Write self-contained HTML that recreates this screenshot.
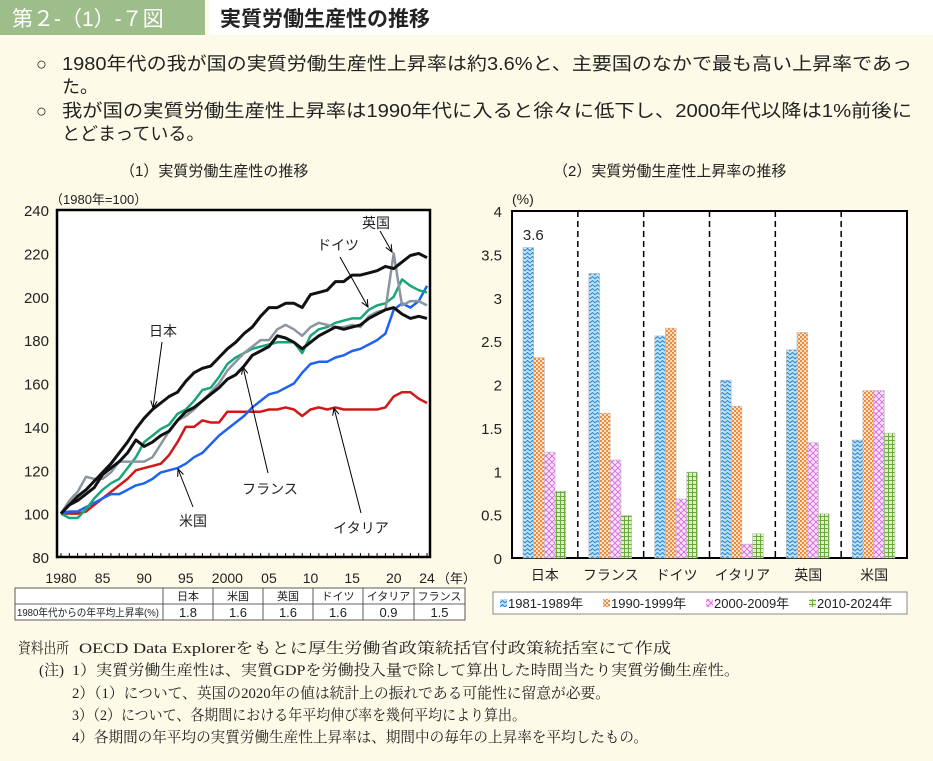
<!DOCTYPE html>
<html><head><meta charset="utf-8">
<style>
html,body{margin:0;padding:0;background:#fdfbe7;}
body{width:933px;height:761px;position:relative;overflow:hidden;font-family:"Liberation Sans","Noto Sans CJK JP",sans-serif;}
svg{position:absolute;left:0;top:0;}
</style></head>
<body>
<svg id="root" width="933" height="761" viewBox="0 0 933 761" xmlns="http://www.w3.org/2000/svg">
<defs>
 <pattern id="pBlue" width="5" height="4" patternUnits="userSpaceOnUse"><rect width="5" height="4" fill="#bfe3f7"/><path d="M0 3 L2.5 0.5 L5 3" stroke="#2a86d0" stroke-width="1" fill="none"/></pattern>
 <pattern id="pOrange" width="4" height="4" patternUnits="userSpaceOnUse"><rect width="4" height="4" fill="#fde2c8"/><rect width="2" height="2" fill="#f08a3c"/><rect x="2" y="2" width="2" height="2" fill="#f08a3c"/></pattern>
 <pattern id="pPink" width="6" height="6" patternUnits="userSpaceOnUse"><rect width="6" height="6" fill="#fbe3fb"/><path d="M0 0 L6 6 M6 0 L0 6" stroke="#d46ae0" stroke-width="0.9"/></pattern>
 <pattern id="pGreen" width="4" height="4" patternUnits="userSpaceOnUse"><rect width="4" height="4" fill="#dff0c4"/><path d="M0 0.5 H4 M0.5 0 V4" stroke="#6aaa3a" stroke-width="1"/></pattern>
 <marker id="arr" viewBox="0 0 10 10" refX="9" refY="5" markerWidth="8" markerHeight="8" orient="auto"><path d="M0 1 L9 5 L0 9" fill="none" stroke="#000" stroke-width="1.3"/></marker>
</defs>
<g>
 <rect x="0" y="0" width="205" height="35" fill="#9dbd8a"/>
 <text x="12" y="26" font-size="21" fill="#fff" font-family="Liberation Sans,'Noto Sans CJK JP',sans-serif">第２-（1）-７図</text>
 <rect x="209" y="0" width="724" height="35" fill="#fff"/>
 <text x="220" y="26" font-size="21" font-weight="bold" fill="#222" font-family="Liberation Sans,'Noto Sans CJK JP',sans-serif">実質労働生産性の推移</text>
</g>
<g font-size="18" fill="#222" font-family="Liberation Sans,'Noto Sans CJK JP',sans-serif">
 <text x="36" y="70">○</text>
 <text x="62" y="70" textLength="850" lengthAdjust="spacingAndGlyphs">1980年代の我が国の実質労働生産性上昇率は約3.6%と、主要国のなかで最も高い上昇率であっ</text>
 <text x="62" y="93">た。</text>
 <text x="36" y="117">○</text>
 <text x="62" y="117" textLength="850" lengthAdjust="spacingAndGlyphs">我が国の実質労働生産性上昇率は1990年代に入ると徐々に低下し、2000年代以降は1%前後に</text>
 <text x="62" y="140">とどまっている。</text>
</g>
<text x="120" y="176" font-size="15" fill="#222">（1）実質労働生産性の推移</text>
<text x="553" y="176" font-size="15" fill="#222">（2）実質労働生産性上昇率の推移</text>

<g id="left"></g>
<g id="right"></g>

<g id="table"></g>

<g font-size="15" fill="#222" font-family="Liberation Serif,'Noto Serif CJK JP',serif">
 <text x="18" y="653" textLength="51" lengthAdjust="spacingAndGlyphs">資料出所</text>
 <text x="79" y="653" textLength="592" lengthAdjust="spacingAndGlyphs">OECD Data Explorerをもとに厚生労働省政策統括官付政策統括室にて作成</text>
 <text x="39" y="675">(注)</text>
 <text x="72" y="675" textLength="668" lengthAdjust="spacingAndGlyphs">1）実質労働生産性は、実質GDPを労働投入量で除して算出した時間当たり実質労働生産性。</text>
 <text x="72" y="698" textLength="538" lengthAdjust="spacingAndGlyphs">2）（1）について、英国の2020年の値は統計上の振れである可能性に留意が必要。</text>
 <text x="72" y="720" textLength="454" lengthAdjust="spacingAndGlyphs">3）（2）について、各期間における年平均伸び率を幾何平均により算出。</text>
 <text x="72" y="742" textLength="576" lengthAdjust="spacingAndGlyphs">4）各期間の年平均の実質労働生産性上昇率は、期間中の毎年の上昇率を平均したもの。</text>
</g>
</svg>
<script>
const years = [];
for (let y = 1980; y <= 2024; y++) years.push(y);
const japan = [100,104,108,111,115,119,123,128,133,139,144,148,151,154,156,161,165,167,168,172,176,179,183,186,191,195,195,197,197,195,201,202,203,207,207,210,210,211,212,214,213,216,219,220,218];
const france = [100,104,106,109,112,118,121,124,128,134,131,133,136,138,143,147,149,152,155,158,162,164,168,173,175,177,182,181,179,176,179,182,184,186,185,186,187,190,192,194,195,192,190,191,190];
const germany = [100,98,98,102,107,111,114,116,121,126,133,136,139,141,146,148,152,157,158,163,169,172,174,176,177,178,179,179,179,174,182,185,186,188,189,190,190,194,196,197,200,208,205,203,202];
const uk = [100,106,110,117,116,116,119,124,124,124,124,126,132,138,143,145,148,152,156,160,166,170,174,177,180,180,185,187,185,182,186,188,187,186,186,187,186,191,193,194,220,196,198,198,196];
const us = [100,101,101,103,105,107,109,109,111,113,114,116,119,120,121,123,126,128,132,136,139,142,145,149,152,155,156,158,160,165,169,170,170,172,173,175,176,178,180,183,194,197,195,198,205];
const italy = [100,100,100,101,104,107,110,113,116,120,121,122,123,127,133,140,140,143,142,142,147,147,147,147,147,148,148,149,148,145,148,149,148,149,148,148,148,148,148,149,154,156,156,153,151];
const yTicks = [80,100,120,140,160,180,200,220,240];
const xTickYears = [1980,1985,1990,1995,2000,2005,2010,2015,2020,2024];
const xTickLabels = ["1980","85","90","95","2000","05","10","15","20","24"];

const countries = ["日本","フランス","ドイツ","イタリア","英国","米国"];
const p1 = [3.58,3.28,2.56,2.05,2.40,1.36];
const p2 = [2.31,1.67,2.65,1.75,2.60,1.93];
const p3 = [1.22,1.13,0.68,0.16,1.33,1.93];
const p4 = [0.77,0.49,0.99,0.28,0.51,1.44];
const periods = ["1981-1989年","1990-1999年","2000-2009年","2010-2024年"];
const barTicks = [0,0.5,1,1.5,2,2.5,3,3.5,4];
const barTickLabels = ["0","0.5","1","1.5","2","2.5","3","3.5","4"];

const tblHead = ["日本","米国","英国","ドイツ","イタリア","フランス"];
const tblVals = ["1.8","1.6","1.6","1.6","0.9","1.5"];

const NS = "http://www.w3.org/2000/svg";
function el(tag, attrs, parent, txt){const e=document.createElementNS(NS,tag);for(const k in attrs)e.setAttribute(k,attrs[k]);if(txt!=null)e.textContent=txt;parent.appendChild(e);return e;}

// ---- line chart ----
const L = document.getElementById('left');
const lx0=57,lx1=430,ly0=210,ly1=557;
const xS = y => 61 + (y-1980)*(427-61)/44;
const yS = v => ly1 - (v-80)/(160)*(ly1-ly0);
let r = el('rect',{x:lx0,y:ly0,width:lx1-lx0,height:ly1-ly0,fill:'#fff',stroke:'#000','stroke-width':2.5},L);


yTicks.forEach(v=>{
  const t=el('text',{x:49,y:yS(v)+6,'text-anchor':'end','font-size':15,fill:'#222'},L,String(v));
  
  
});
years.forEach(y=>{ el('line',{x1:xS(y),x2:xS(y),y1:ly1,y2:ly1-4,stroke:'#000','stroke-width':1},L); });
xTickYears.forEach((y,i)=>{
  const t=el('text',{x:xS(y),y:583,'text-anchor':'middle','font-size':14,fill:'#222'},L,xTickLabels[i]);
  
  
});
el('text',{x:437,y:583,'font-size':13,fill:'#222'},L,'（年）');
el('text',{x:50,y:204,'font-size':13,fill:'#222'},L,'（1980年=100）');
const series=[[italy,'#d01818',2.5,'line-italy'],[us,'#1e63f0',2.5,'line-us'],[germany,'#1aa57a',2.5,'line-germany'],[uk,'#8a95a0',2.5,'line-uk'],[france,'#111',3,'line-france'],[japan,'#111',3,'line-japan']];
series.forEach(s=>{
  const d=s[0].map((v,i)=>(i?'L':'M')+xS(years[i]).toFixed(1)+' '+yS(v).toFixed(1)).join(' ');
  const p=el('path',{d:d,fill:'none',stroke:s[1],'stroke-width':s[2],'stroke-linejoin':'round'},L);
  
  
});
const ann=[["日本",163,336,162,342,153,408],["英国",376,228,380,231,392,252],["ドイツ",338,250,340,257,368,307],["フランス",270,494,268,473,243,367],["米国",193,526,193,507,178,469],["イタリア",361,533,361,513,334,408]];
ann.forEach(a=>{
  const t=el('text',{x:a[1],y:a[2],'text-anchor':'middle','font-size':14,fill:'#222'},L,a[0]);
  
  
  el('line',{x1:a[3],y1:a[4],x2:a[5],y2:a[6],stroke:'#000','stroke-width':1,'marker-end':'url(#arr)'},L);
});

// ---- bar chart ----
const R = document.getElementById('right');
const bx0=512,bx1=907,by0=211,by1=558;
const bY = v => by1 - v/4*(by1-by0);
const gw=(bx1-bx0)/6, bw=10.7;
r=el('rect',{x:bx0,y:by0,width:bx1-bx0,height:by1-by0,fill:'#fff',stroke:'#000','stroke-width':2},R);


barTicks.forEach((v,i)=>{
  const t=el('text',{x:502,y:bY(v)+6,'text-anchor':'end','font-size':15,fill:'#222'},R,barTickLabels[i]);
  
  
});
el('text',{x:512,y:204,'font-size':14,fill:'#222'},R,'(%)');
for(let i=1;i<6;i++){ el('line',{x1:bx0+gw*i,x2:bx0+gw*i,y1:by0,y2:by1,stroke:'#000','stroke-width':1.5,'stroke-dasharray':'6 4'},R); }
const fills=['url(#pBlue)','url(#pOrange)','url(#pPink)','url(#pGreen)'];
const vals=[p1,p2,p3,p4];
countries.forEach((c,i)=>{
  vals.forEach((arr,k)=>{
    const x=bx0+gw*i+11+k*bw, v=arr[i];
    const b=el('rect',{x:x,y:bY(v),width:bw,height:by1-bY(v),fill:fills[k],stroke:'#bbb','stroke-width':0.6},R);
    
    
  });
  const t=el('text',{x:bx0+gw*i+gw/2,y:580,'text-anchor':'middle','font-size':14,fill:'#222'},R,c);
  
  
});
el('text',{x:bx0+11+bw/2+5,y:240,'text-anchor':'middle','font-size':15,fill:'#222'},R,p1[0].toFixed(1));
const lg=el('rect',{x:493,y:592,width:414,height:22,fill:'#fff',stroke:'#888','stroke-width':1},R);


periods.forEach((p,k)=>{
  const x=500+k*103;
  el('rect',{x:x,y:599,width:7,height:8,fill:fills[k]},R);
  const t=el('text',{x:x+8,y:608,'font-size':13,fill:'#222'},R,p);
  
  
});

// ---- table ----
const T=document.getElementById('table');
const cols=[15,163,213,263,313,363,414,465];
el('rect',{x:15,y:588,width:450,height:32,fill:'#fff',stroke:'#333','stroke-width':0.8},T);
el('line',{x1:15,x2:465,y1:604,y2:604,stroke:'#333','stroke-width':0.8},T);
for(let i=1;i<cols.length-1;i++) el('line',{x1:cols[i],x2:cols[i],y1:588,y2:620,stroke:'#333','stroke-width':0.8},T);
el('text',{x:17,y:616,'font-size':10.5,fill:'#222',textLength:142,lengthAdjust:'spacingAndGlyphs'},T,'1980年代からの年平均上昇率(%)');
tblHead.forEach((h,i)=>{
  const cx=(cols[i+1]+cols[i+2])/2;
  el('text',{x:cx,y:600,'text-anchor':'middle','font-size':11,fill:'#222'},T,h);
  const t=el('text',{x:cx,y:617,'text-anchor':'middle','font-size':13,fill:'#222'},T,tblVals[i]);
  
  
});
</script>
</body></html>
